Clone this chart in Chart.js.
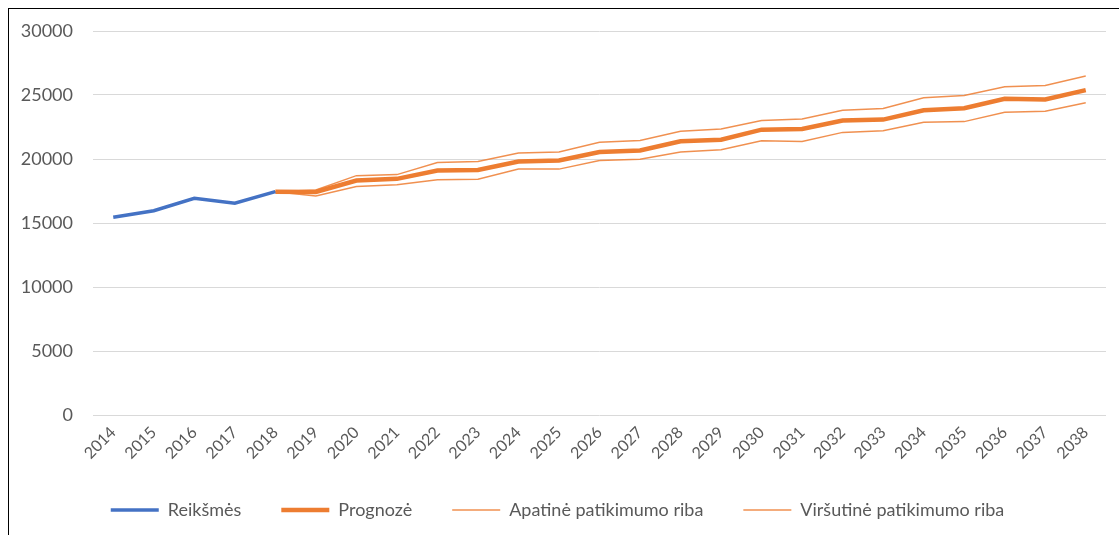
<!DOCTYPE html>
<html>
<head>
<meta charset="utf-8">
<script src="https://cdn.jsdelivr.net/npm/chart.js@4"></script>
<style>
  html, body { margin: 0; padding: 0; background: #fff; }
  #box {
    position: absolute; left: 8px; top: 8px; width: 1111px; height: 527px;
    border-left: 1.5px solid #000; border-top: 1.5px solid #000; box-sizing: border-box;
  }
  #wrap { position: absolute; left: 0; top: 0; width: 1109px; height: 525px; }
</style>
</head>
<body>
<div id="box"><div id="wrap"><canvas id="prognozeChart"></canvas></div></div>
<script>
const years = ['2014', '2015', '2016', '2017', '2018', '2019', '2020', '2021', '2022', '2023', '2024', '2025', '2026',
    '2027', '2028', '2029', '2030', '2031', '2032', '2033', '2034', '2035', '2036', '2037', '2038'];

const reiksmes = [15450, 15960, 16930, 16540, 17450];

const prognoze = [null, null, null, null, 17450, 17420, 18320, 18450, 19100, 19150, 19810, 19880, 20540,
    20670, 21380, 21510, 22290, 22350, 23000, 23080, 23810, 23970, 24700, 24650, 25380];

const apatine = [null, null, null, null, 17450, 17110, 17850, 17980, 18370, 18420, 19210, 19210, 19880,
    19990, 20540, 20720, 21430, 21370, 22080, 22210, 22870, 22920, 23650, 23730, 24390];

const virsutine = [null, null, null, null, 17450, 17580, 18700, 18780, 19730, 19800, 20460, 20540, 21300,
    21450, 22160, 22350, 23000, 23130, 23810, 23940, 24780, 24960, 25650, 25750, 26480];

const yTicks = [0, 5000, 10000, 15000, 20000, 25000, 30000];

const blue = '#4472C4';
const orange = '#ED7D31';
const orangeThin = 'rgba(237, 125, 49, 0.85)';
const textColor = '#595959';
const fontFamily = 'Lato, "Liberation Sans", sans-serif';

document.addEventListener('DOMContentLoaded', function () {
    const ctx = document.getElementById('prognozeChart');

    new Chart(ctx, {
        type: 'line',
        data: {
            labels: years,
            datasets: [
                {
                    label: 'Reikšmės',
                    data: reiksmes,
                    borderColor: blue,
                    backgroundColor: blue,
                    borderWidth: 3.5,
                    pointRadius: 0,
                    pointStyle: 'line',
                    order: 1
                },
                {
                    label: 'Prognozė',
                    data: prognoze,
                    borderColor: orange,
                    backgroundColor: orange,
                    borderWidth: 4.5,
                    pointRadius: 0,
                    pointStyle: 'line',
                    order: 2
                },
                {
                    label: 'Apatinė patikimumo riba',
                    data: apatine,
                    borderColor: orangeThin,
                    backgroundColor: orangeThin,
                    borderWidth: 1.5,
                    pointRadius: 0,
                    pointStyle: 'line',
                    order: 3
                },
                {
                    label: 'Viršutinė patikimumo riba',
                    data: virsutine,
                    borderColor: orangeThin,
                    backgroundColor: orangeThin,
                    borderWidth: 1.5,
                    pointRadius: 0,
                    pointStyle: 'line',
                    order: 4
                }
            ]
        },
        options: {
            responsive: true,
            maintainAspectRatio: false,
            animation: false,
            layout: { padding: { top: 22, right: 12, bottom: 5, left: 0 } },
            plugins: {
                tooltip: { enabled: false },
                legend: {
                    position: 'bottom',
                    labels: {
                        usePointStyle: true,
                        pointStyleWidth: 48,
                        padding: 40,
                        color: textColor,
                        font: { family: fontFamily, size: 18 }
                    }
                }
            },
            scales: {
                x: {
                    offset: true,
                    grid: { display: false, drawTicks: false },
                    border: { display: false },
                    ticks: {
                        color: textColor,
                        font: { family: fontFamily, size: 16 },
                        minRotation: 45,
                        maxRotation: 45,
                        autoSkip: false,
                        padding: 8
                    },
                    afterFit: function (scale) { scale.height = 46; }
                },
                y: {
                    min: 0,
                    max: 30000,
                    afterBuildTicks: function (scale) {
                        scale.ticks = yTicks.map(v => ({ value: v }));
                    },
                    grid: { color: '#d9d9d9', lineWidth: 1, drawTicks: false },
                    border: { display: false },
                    ticks: {
                        color: textColor,
                        font: { family: fontFamily, size: 18 },
                        padding: 20,
                        callback: (v) => String(v)
                    },
                    afterFit: function (scale) {
                        scale.width = 84;
                        scale.paddingTop = 0;
                        scale.paddingBottom = 0;
                    }
                }
            }
        }
    });
});
</script>
</body>
</html>
